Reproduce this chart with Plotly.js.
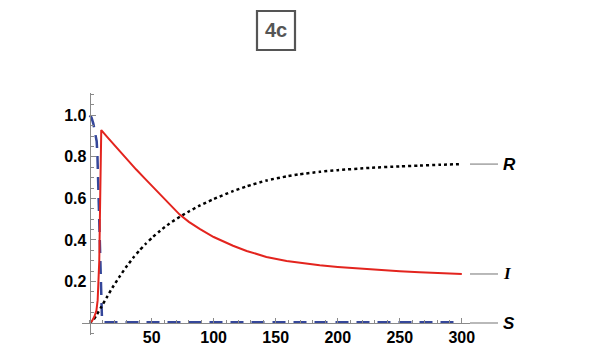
<!DOCTYPE html>
<html>
<head>
<meta charset="utf-8">
<script src="https://cdn.plot.ly/plotly-3.0.1.min.js"></script>
<style>html,body{margin:0;padding:0;background:#fff;}#chart{width:596px;height:358px;}</style>
</head>
<body>
<div id="chart"></div>
<script>
// Time values and series
const tS = [0, 1.5, 3, 4.5, 5.7, 6.3, 6.8, 7.3, 7.8, 8.4, 9.2, 10, 11, 300];
const S  = [1.0, 0.99, 0.96, 0.92, 0.875, 0.81, 0.714, 0.554, 0.42, 0.30, 0.143, 0.015, 0.003, 0.003];

const tI = [0, 2, 3.8, 5.5, 6.5, 7.2, 7.8, 8.4, 9.0, 9.4, 15, 20.5, 26, 31.2, 37.4, 44.6, 50.8, 57, 64.2, 72.6, 80, 88.7, 100, 115.6, 126.6, 142.5, 158.8, 169, 185.5, 200, 225.8, 250, 266, 283, 300];
const I  = [0, 0.01, 0.03, 0.06, 0.11, 0.19, 0.30, 0.545, 0.80, 0.929, 0.89, 0.852, 0.815, 0.78, 0.74, 0.695, 0.656, 0.617, 0.572, 0.522, 0.487, 0.453, 0.414, 0.372, 0.347, 0.318, 0.298, 0.289, 0.278, 0.270, 0.258, 0.249, 0.244, 0.240, 0.236];

const tR = [0, 3, 6, 9.2, 14, 18.6, 24, 29.3, 35, 40, 45, 50.8, 57, 64.2, 72.9, 80, 88.7, 99.8, 115.6, 126.6, 142.5, 158.8, 169, 185.5, 200, 225.8, 250, 266, 283, 300];
const R  = [0, 0.015, 0.042, 0.075, 0.125, 0.172, 0.222, 0.268, 0.313, 0.348, 0.38, 0.413, 0.445, 0.478, 0.512, 0.537, 0.565, 0.596, 0.635, 0.658, 0.686, 0.706, 0.716, 0.728, 0.736, 0.747, 0.754, 0.758, 0.762, 0.765];

const xTicks = [50, 100, 150, 200, 250, 300];
const yTicks = [0.2, 0.4, 0.6, 0.8, 1.0];
const yTickText = ["0.2", "0.4", "0.6", "0.8", "1.0"];

const labels = [
  {name: "R", y: 0.765, font: "Liberation Sans"},
  {name: "I", y: 0.236, font: "Liberation Serif"},
  {name: "S", y: 0.0, font: "Liberation Sans"}
];

const W = 596, H = 358;
const axisGray = "#8a8a8a";

const traces = [
  {x: tS, y: S, mode: "lines", line: {color: "#35479A", width: 2.5, dash: "13px,8px"}, hoverinfo: "skip"},
  {x: tR, y: R, mode: "lines", line: {color: "#000000", width: 2.5, dash: "3px,3px", shape: "spline", smoothing: 0.6}, hoverinfo: "skip"},
  {x: tI, y: I, mode: "lines", line: {color: "#E3241E", width: 2}, hoverinfo: "skip"}
];

const shapes = [
  {type: "rect", xref: "paper", yref: "paper",
   x0: 257 / W, x1: 295 / W, y0: (H - 50) / H, y1: (H - 11) / H,
   line: {color: "#555555", width: 2.2}, fillcolor: "rgba(0,0,0,0)"}
];
const annotations = [
  {xref: "paper", yref: "paper", x: 276 / W, y: (H - 30.5) / H, text: "<b>4c</b>",
   showarrow: false, xanchor: "center", yanchor: "middle",
   font: {family: "Liberation Sans, Arial, sans-serif", size: 20, color: "#555555"}}
];
labels.forEach(function (l) {
  shapes.push({type: "line", xref: "paper", yref: "y", x0: 470 / W, x1: 498 / W, y0: l.y, y1: l.y,
    line: {color: "#a8a8a8", width: 1.6}});
  annotations.push({xref: "paper", yref: "y", x: 501 / W, y: l.y, text: "<b><i>" + l.name + "</i></b>",
    showarrow: false, xanchor: "left", yanchor: "middle",
    font: {family: l.font, size: 17, color: "#000000"}});
});

const tickFont = {family: "Liberation Sans, Arial, sans-serif", size: 16, color: "#000000", weight: "bold"};

const layout = {
  width: W, height: H,
  margin: {l: 0, r: 0, t: 0, b: 0},
  paper_bgcolor: "#ffffff", plot_bgcolor: "#ffffff",
  showlegend: false,
  xaxis: {
    domain: [82 / W, 470 / W], range: [-6.12, 306.6],
    anchor: "free", position: (H - 323) / H,
    showline: true, linecolor: axisGray, linewidth: 1,
    showgrid: false, zeroline: false,
    ticks: "inside", ticklen: 5, tickcolor: axisGray, tickwidth: 1,
    tickvals: xTicks, ticktext: xTicks.map(String),
    minor: {dtick: 10, tick0: 0, ticks: "inside", ticklen: 3, tickcolor: axisGray, showgrid: false},
    tickfont: tickFont,
    fixedrange: true
  },
  yaxis: {
    domain: [(H - 335) / H, (H - 93) / H], range: [-0.0578, 1.1074],
    anchor: "free", position: 89.6 / W,
    showline: true, linecolor: axisGray, linewidth: 1,
    showgrid: false, zeroline: false,
    ticks: "inside", ticklen: 5, tickcolor: axisGray, tickwidth: 1,
    tickvals: yTicks, ticktext: yTickText,
    minor: {dtick: 0.05, tick0: 0, ticks: "inside", ticklen: 3, tickcolor: axisGray, showgrid: false},
    tickfont: tickFont,
    fixedrange: true
  },
  shapes: shapes,
  annotations: annotations
};

Plotly.newPlot("chart", traces, layout, {displayModeBar: false, staticPlot: true});
</script>
</body>
</html>
